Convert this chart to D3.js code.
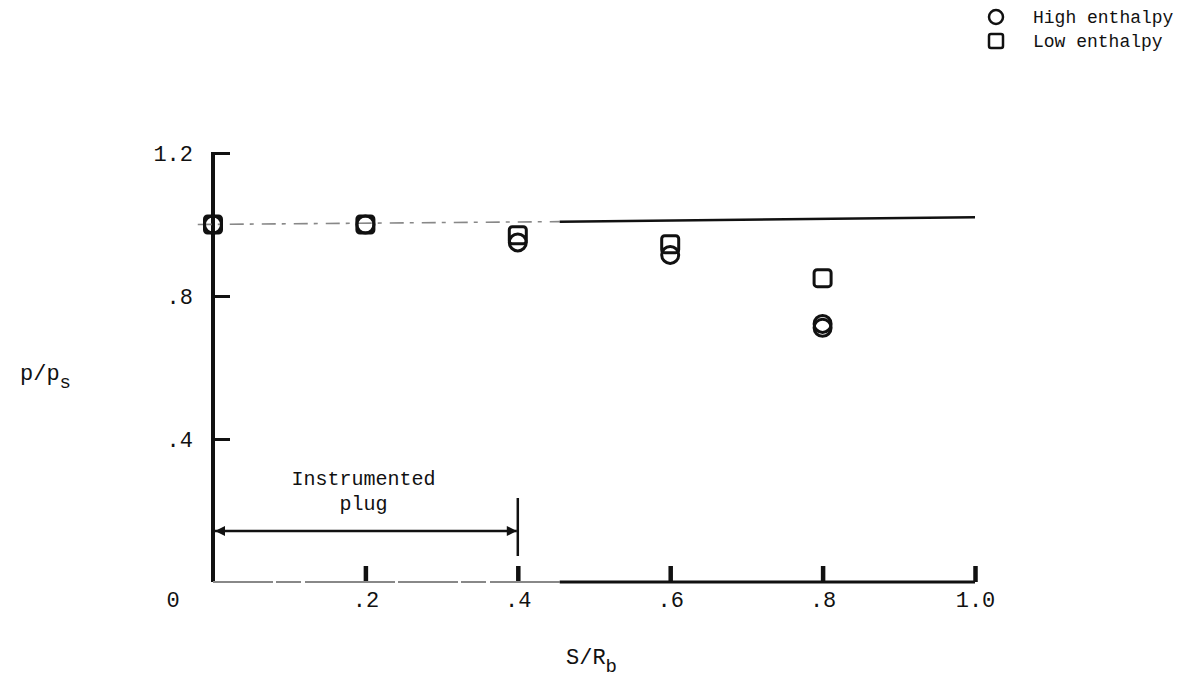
<!DOCTYPE html>
<html>
<head>
<meta charset="utf-8">
<script src="https://cdn.jsdelivr.net/npm/d3@7"></script>
<style>
  body { margin: 0; background: #fff; }
  svg { display: block; }
  text { font-family: "Liberation Mono", "DejaVu Sans Mono", monospace; fill: #111; }
</style>
</head>
<body>
<div id="chart"></div>
<script>
// values
const highS = [0, 0.2, 0.4, 0.6, 0.8, 0.8];
const highP = [1.0, 1.0, 0.95, 0.915, 0.722, 0.711];
const lowS = [0, 0.2, 0.4, 0.6, 0.8];
const lowP = [1.0, 1.0, 0.97, 0.945, 0.85];
const refS = [-0.02, 0.455, 1.0];
const refP = [1.0, 1.008, 1.02];
const xTicks = [0.2, 0.4, 0.6, 0.8, 1.0];
const xTickLabels = [".2", ".4", ".6", ".8", "1.0"];
const yTicks = [0.4, 0.8, 1.2];
const yTickLabels = [".4", ".8", "1.2"];
const plugSpan = [0, 0.4];
const legendLabels = ["High enthalpy", "Low enthalpy"];

const width = 1183;
const height = 683;

const svg = d3.select("#chart")
  .append("svg")
  .attr("width", width)
  .attr("height", height);

const x = d3.scaleLinear().domain([0, 1]).range([213, 975]);
const y = d3.scaleLinear().domain([0, 1.2]).range([582, 153]);

// axes, ticks pointing inward
const xAxis = svg.append("g")
  .attr("transform", `translate(0, ${y(0)})`)
  .call(d3.axisBottom(x)
    .tickValues(xTicks)
    .tickFormat((d, i) => xTickLabels[i])
    .tickSizeInner(-16)
    .tickSizeOuter(0)
    .tickPadding(9));
xAxis.select(".domain").remove();
xAxis.selectAll(".tick line").attr("stroke", "#111").attr("stroke-width", 4.5);
xAxis.selectAll(".tick text").style("font-size", "22px").attr("fill", "#111");

const yAxis = svg.append("g")
  .attr("transform", `translate(${x(0)}, 0)`)
  .call(d3.axisLeft(y)
    .tickValues(yTicks)
    .tickFormat((d, i) => yTickLabels[i])
    .tickSizeInner(-17)
    .tickSizeOuter(0)
    .tickPadding(20));
yAxis.select(".domain").remove();
yAxis.selectAll(".tick line").attr("stroke", "#111").attr("stroke-width", 3);
yAxis.selectAll(".tick text").style("font-size", "22px").attr("fill", "#111");

// axis lines
svg.append("line")
  .attr("x1", x(0)).attr("x2", x(0))
  .attr("y1", y(1.2) - 1).attr("y2", y(0))
  .attr("stroke", "#111").attr("stroke-width", 4);
svg.append("line")
  .attr("x1", x(0)).attr("x2", x(0.455))
  .attr("y1", y(0)).attr("y2", y(0))
  .attr("stroke", "#888").attr("stroke-width", 2)
  .attr("stroke-dasharray", "60,3,25,4,90,3");
svg.append("line")
  .attr("x1", x(0.455)).attr("x2", x(1))
  .attr("y1", y(0)).attr("y2", y(0))
  .attr("stroke", "#111").attr("stroke-width", 3);

svg.append("text")
  .attr("x", x(0) - 40)
  .attr("y", y(0) + 9)
  .attr("dy", "0.71em")
  .attr("text-anchor", "middle")
  .style("font-size", "22px")
  .text("0");

// reference line at p/ps ~ 1
const line = d3.line().x(d => x(d[0])).y(d => y(d[1]));
const ref = refS.map((s, i) => [s, refP[i]]);
svg.append("path")
  .attr("d", line(ref.slice(0, 2)))
  .attr("fill", "none")
  .attr("stroke", "#888")
  .attr("stroke-width", 1.6)
  .attr("stroke-dasharray", "14,6,4,8");
svg.append("path")
  .attr("d", line(ref.slice(1)))
  .attr("fill", "none")
  .attr("stroke", "#111")
  .attr("stroke-width", 2.5);

// data markers
svg.selectAll(".low")
  .data(lowS.map((s, i) => ({ s, p: lowP[i] })))
  .enter()
  .append("rect")
  .attr("class", "low")
  .attr("x", d => x(d.s) - 8.5)
  .attr("y", d => y(d.p) - 8.5)
  .attr("width", 17)
  .attr("height", 17)
  .attr("rx", 3)
  .attr("fill", "none")
  .attr("stroke", "#111")
  .attr("stroke-width", 3);

svg.selectAll(".high")
  .data(highS.map((s, i) => ({ s, p: highP[i] })))
  .enter()
  .append("circle")
  .attr("class", "high")
  .attr("cx", d => x(d.s))
  .attr("cy", d => y(d.p))
  .attr("r", 8.5)
  .attr("fill", "none")
  .attr("stroke", "#111")
  .attr("stroke-width", 3);

// instrumented plug annotation
const plugY = 531;
svg.append("defs").selectAll("marker")
  .data(["arrowEnd", "arrowStart"])
  .enter()
  .append("marker")
  .attr("id", d => d)
  .attr("viewBox", "0 0 10 10")
  .attr("refX", 10)
  .attr("refY", 5)
  .attr("markerWidth", 7)
  .attr("markerHeight", 4)
  .attr("markerUnits", "strokeWidth")
  .attr("orient", d => d === "arrowEnd" ? "auto" : "auto-start-reverse")
  .append("path")
  .attr("d", "M0,0L10,5L0,10z")
  .attr("fill", "#111");

svg.append("line")
  .attr("x1", x(plugSpan[0]) + 2)
  .attr("x2", x(plugSpan[1]) - 1)
  .attr("y1", plugY).attr("y2", plugY)
  .attr("stroke", "#111").attr("stroke-width", 2.5)
  .attr("marker-start", "url(#arrowStart)")
  .attr("marker-end", "url(#arrowEnd)");
svg.append("line")
  .attr("x1", x(plugSpan[1])).attr("x2", x(plugSpan[1]))
  .attr("y1", 498).attr("y2", 556)
  .attr("stroke", "#111").attr("stroke-width", 2.5);

svg.append("text")
  .attr("x", x(0.2) - 2)
  .attr("y", 485)
  .attr("text-anchor", "middle")
  .style("font-size", "20px")
  .text("Instrumented");
svg.append("text")
  .attr("x", x(0.2) - 2)
  .attr("y", 510)
  .attr("text-anchor", "middle")
  .style("font-size", "20px")
  .text("plug");

// axis titles
const xTitle = svg.append("text")
  .attr("x", 566)
  .attr("y", 664)
  .style("font-size", "22px");
xTitle.append("tspan").text("S/R");
xTitle.append("tspan").attr("dy", 8).style("font-size", "19px").text("b");

const yTitle = svg.append("text")
  .attr("x", 20)
  .attr("y", 380)
  .style("font-size", "22px");
yTitle.append("tspan").text("p/p");
yTitle.append("tspan").attr("dy", 8).style("font-size", "19px").text("s");

// legend
const legend = svg.append("g");
legend.append("circle")
  .attr("cx", 996).attr("cy", 17).attr("r", 7)
  .attr("fill", "none").attr("stroke", "#111").attr("stroke-width", 2.5);
legend.append("rect")
  .attr("x", 989).attr("y", 34).attr("width", 14).attr("height", 14).attr("rx", 2)
  .attr("fill", "none").attr("stroke", "#111").attr("stroke-width", 2.5);
legend.selectAll(".leg")
  .data(legendLabels)
  .enter()
  .append("text")
  .attr("class", "leg")
  .attr("x", 1033)
  .attr("y", (d, i) => 17 + i * 24)
  .attr("dy", "0.35em")
  .style("font-size", "18px")
  .text(d => d);
</script>
</body>
</html>
